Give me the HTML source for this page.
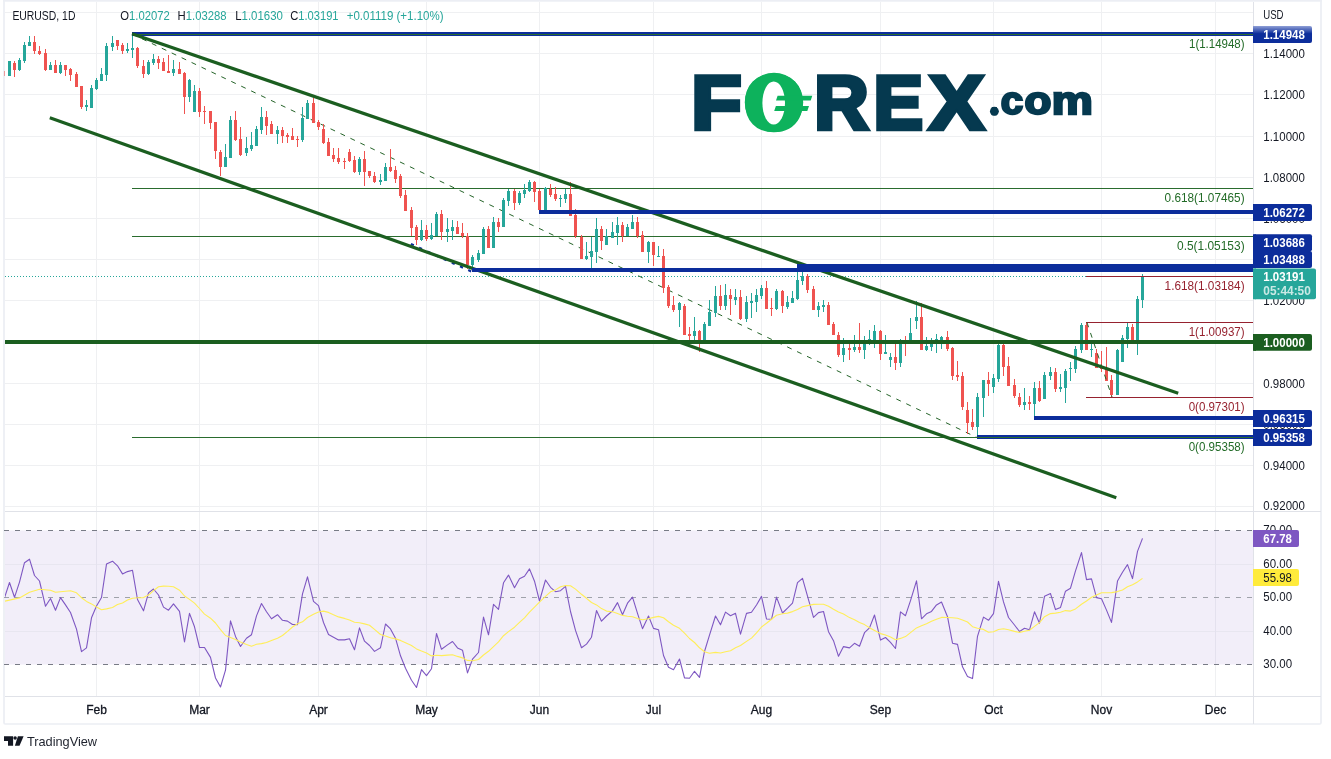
<!DOCTYPE html>
<html><head><meta charset="utf-8"><title>EURUSD 1D</title>
<style>
html,body{margin:0;padding:0;background:#fff;}
body{width:1331px;height:759px;overflow:hidden;font-family:"Liberation Sans", Arial, sans-serif;}
svg{display:block;}
text{font-family:"Liberation Sans", Arial, sans-serif;}
.ax{font-size:12px;fill:#131722;}
.lb{font-size:12px;fill:#fff;font-weight:bold;}
</style></head><body>
<svg width="1331" height="759" viewBox="0 0 1331 759">
<rect width="1331" height="759" fill="#fff"/>

<rect x="4" y="-2" width="1317" height="726" rx="1.2" fill="#fff" stroke="#eceef4" stroke-width="1.7"/>
<rect x="3" y="0" width="1319" height="1.7" fill="#eceef4"/>
<defs><clipPath id="cp"><rect x="5" y="2" width="1248" height="509"/></clipPath><clipPath id="cr"><rect x="5" y="512" width="1248" height="184"/></clipPath></defs>
<g shape-rendering="crispEdges" stroke="#eff0f2" stroke-width="1">
<line x1="96.5" y1="2" x2="96.5" y2="696"/>
<line x1="199.5" y1="2" x2="199.5" y2="696"/>
<line x1="318.5" y1="2" x2="318.5" y2="696"/>
<line x1="426.5" y1="2" x2="426.5" y2="696"/>
<line x1="539.5" y1="2" x2="539.5" y2="696"/>
<line x1="653.5" y1="2" x2="653.5" y2="696"/>
<line x1="761.5" y1="2" x2="761.5" y2="696"/>
<line x1="880.5" y1="2" x2="880.5" y2="696"/>
<line x1="993.5" y1="2" x2="993.5" y2="696"/>
<line x1="1101.5" y1="2" x2="1101.5" y2="696"/>
<line x1="1215.5" y1="2" x2="1215.5" y2="696"/>
<line x1="5" y1="12.5" x2="1253" y2="12.5"/>
<line x1="5" y1="53.5" x2="1253" y2="53.5"/>
<line x1="5" y1="94.5" x2="1253" y2="94.5"/>
<line x1="5" y1="136.5" x2="1253" y2="136.5"/>
<line x1="5" y1="177.5" x2="1253" y2="177.5"/>
<line x1="5" y1="218.5" x2="1253" y2="218.5"/>
<line x1="5" y1="259.5" x2="1253" y2="259.5"/>
<line x1="5" y1="300.5" x2="1253" y2="300.5"/>
<line x1="5" y1="342.5" x2="1253" y2="342.5"/>
<line x1="5" y1="383.5" x2="1253" y2="383.5"/>
<line x1="5" y1="424.5" x2="1253" y2="424.5"/>
<line x1="5" y1="465.5" x2="1253" y2="465.5"/>
<line x1="5" y1="506.5" x2="1253" y2="506.5"/>
</g>
<rect x="5" y="530.5" width="1248" height="134" fill="#7e57c2" fill-opacity="0.1"/>
<g shape-rendering="crispEdges" stroke="#e8e6f0" stroke-width="1">
<line x1="5" y1="564.5" x2="1253" y2="564.5"/>
<line x1="5" y1="631.5" x2="1253" y2="631.5"/>
<line x1="96.5" y1="530.5" x2="96.5" y2="664.5" stroke="#e4e1ee"/>
<line x1="199.5" y1="530.5" x2="199.5" y2="664.5" stroke="#e4e1ee"/>
<line x1="318.5" y1="530.5" x2="318.5" y2="664.5" stroke="#e4e1ee"/>
<line x1="426.5" y1="530.5" x2="426.5" y2="664.5" stroke="#e4e1ee"/>
<line x1="539.5" y1="530.5" x2="539.5" y2="664.5" stroke="#e4e1ee"/>
<line x1="653.5" y1="530.5" x2="653.5" y2="664.5" stroke="#e4e1ee"/>
<line x1="761.5" y1="530.5" x2="761.5" y2="664.5" stroke="#e4e1ee"/>
<line x1="880.5" y1="530.5" x2="880.5" y2="664.5" stroke="#e4e1ee"/>
<line x1="993.5" y1="530.5" x2="993.5" y2="664.5" stroke="#e4e1ee"/>
<line x1="1101.5" y1="530.5" x2="1101.5" y2="664.5" stroke="#e4e1ee"/>
<line x1="1215.5" y1="530.5" x2="1215.5" y2="664.5" stroke="#e4e1ee"/>
</g>
<g shape-rendering="crispEdges" stroke="#787b86" stroke-width="1" stroke-dasharray="5 6">
<line x1="4" y1="530.5" x2="1253" y2="530.5"/>
<line x1="4" y1="597.5" x2="1253" y2="597.5" stroke="#9fa2aa"/>
<line x1="4" y1="664.5" x2="1253" y2="664.5"/>
</g>
<g shape-rendering="crispEdges" stroke="#e0e2e8" stroke-width="1">
<line x1="5" y1="511.5" x2="1321" y2="511.5"/>
<line x1="5" y1="696.5" x2="1321" y2="696.5"/>
<line x1="1253.5" y1="2" x2="1253.5" y2="724"/>
</g>
<g clip-path="url(#cp)">
<line x1="5" y1="276.5" x2="1086" y2="276.5" stroke="#26a69a" stroke-width="1" stroke-dasharray="1 2" shape-rendering="crispEdges"/>
<g shape-rendering="crispEdges" stroke="#2a6c2e" stroke-width="1">
<line x1="132" y1="34.5" x2="1253" y2="34.5"/>
<line x1="132" y1="188.5" x2="1253" y2="188.5"/>
<line x1="132" y1="236.5" x2="1253" y2="236.5"/>
<line x1="132" y1="437.5" x2="1253" y2="437.5"/>
</g>
<line x1="132" y1="34" x2="977" y2="437.5" stroke="#256429" stroke-width="1" stroke-dasharray="5 6"/>
<g shape-rendering="crispEdges">
<rect x="9" y="61" width="1" height="15" fill="#26a69a"/><rect x="8" y="61" width="3" height="15" fill="#26a69a"/>
<rect x="14" y="61" width="1" height="16" fill="#ef5350"/><rect x="13" y="63" width="3" height="7" fill="#ef5350"/>
<rect x="19" y="58" width="1" height="13" fill="#26a69a"/><rect x="18" y="60" width="3" height="10" fill="#26a69a"/>
<rect x="24" y="42" width="1" height="21" fill="#26a69a"/><rect x="23" y="45" width="3" height="16" fill="#26a69a"/>
<rect x="29" y="36" width="1" height="10" fill="#26a69a"/><rect x="28" y="42" width="3" height="4" fill="#26a69a"/>
<rect x="34" y="36" width="1" height="18" fill="#ef5350"/><rect x="33" y="42" width="3" height="9" fill="#ef5350"/>
<rect x="39" y="46" width="1" height="9" fill="#ef5350"/><rect x="38" y="51" width="3" height="3" fill="#ef5350"/>
<rect x="45" y="49" width="1" height="22" fill="#ef5350"/><rect x="44" y="53" width="3" height="17" fill="#ef5350"/>
<rect x="50" y="62" width="1" height="8" fill="#26a69a"/><rect x="49" y="65" width="3" height="5" fill="#26a69a"/>
<rect x="55" y="60" width="1" height="13" fill="#ef5350"/><rect x="54" y="65" width="3" height="8" fill="#ef5350"/>
<rect x="60" y="62" width="1" height="12" fill="#26a69a"/><rect x="59" y="65" width="3" height="8" fill="#26a69a"/>
<rect x="65" y="65" width="1" height="11" fill="#ef5350"/><rect x="64" y="65" width="3" height="5" fill="#ef5350"/>
<rect x="70" y="68" width="1" height="13" fill="#ef5350"/><rect x="69" y="69" width="3" height="6" fill="#ef5350"/>
<rect x="76" y="72" width="1" height="15" fill="#ef5350"/><rect x="75" y="74" width="3" height="13" fill="#ef5350"/>
<rect x="81" y="86" width="1" height="23" fill="#ef5350"/><rect x="80" y="86" width="3" height="21" fill="#ef5350"/>
<rect x="86" y="100" width="1" height="11" fill="#26a69a"/><rect x="85" y="105" width="3" height="2" fill="#26a69a"/>
<rect x="91" y="85" width="1" height="23" fill="#26a69a"/><rect x="90" y="88" width="3" height="20" fill="#26a69a"/>
<rect x="96" y="78" width="1" height="12" fill="#26a69a"/><rect x="95" y="80" width="3" height="9" fill="#26a69a"/>
<rect x="101" y="68" width="1" height="13" fill="#26a69a"/><rect x="100" y="74" width="3" height="7" fill="#26a69a"/>
<rect x="106" y="43" width="1" height="38" fill="#26a69a"/><rect x="105" y="46" width="3" height="29" fill="#26a69a"/>
<rect x="112" y="36" width="1" height="15" fill="#26a69a"/><rect x="111" y="43" width="3" height="4" fill="#26a69a"/>
<rect x="117" y="40" width="1" height="10" fill="#ef5350"/><rect x="116" y="40" width="3" height="6" fill="#ef5350"/>
<rect x="122" y="43" width="1" height="11" fill="#ef5350"/><rect x="121" y="45" width="3" height="6" fill="#ef5350"/>
<rect x="127" y="43" width="1" height="10" fill="#26a69a"/><rect x="126" y="49" width="3" height="2" fill="#26a69a"/>
<rect x="132" y="32" width="1" height="26" fill="#26a69a"/><rect x="131" y="48" width="3" height="2" fill="#26a69a"/>
<rect x="137" y="47" width="1" height="21" fill="#ef5350"/><rect x="136" y="48" width="3" height="18" fill="#ef5350"/>
<rect x="143" y="60" width="1" height="18" fill="#ef5350"/><rect x="142" y="66" width="3" height="8" fill="#ef5350"/>
<rect x="148" y="60" width="1" height="15" fill="#26a69a"/><rect x="147" y="62" width="3" height="12" fill="#26a69a"/>
<rect x="153" y="54" width="1" height="11" fill="#26a69a"/><rect x="152" y="59" width="3" height="4" fill="#26a69a"/>
<rect x="158" y="56" width="1" height="13" fill="#ef5350"/><rect x="157" y="59" width="3" height="4" fill="#ef5350"/>
<rect x="163" y="58" width="1" height="13" fill="#ef5350"/><rect x="162" y="62" width="3" height="9" fill="#ef5350"/>
<rect x="168" y="55" width="1" height="18" fill="#ef5350"/><rect x="167" y="71" width="3" height="2" fill="#ef5350"/>
<rect x="173" y="60" width="1" height="16" fill="#26a69a"/><rect x="172" y="69" width="3" height="4" fill="#26a69a"/>
<rect x="179" y="62" width="1" height="12" fill="#ef5350"/><rect x="178" y="69" width="3" height="5" fill="#ef5350"/>
<rect x="184" y="72" width="1" height="42" fill="#ef5350"/><rect x="183" y="73" width="3" height="24" fill="#ef5350"/>
<rect x="189" y="79" width="1" height="23" fill="#26a69a"/><rect x="188" y="80" width="3" height="17" fill="#26a69a"/>
<rect x="194" y="85" width="1" height="27" fill="#26a69a"/><rect x="193" y="91" width="3" height="21" fill="#26a69a"/>
<rect x="199" y="88" width="1" height="29" fill="#ef5350"/><rect x="198" y="91" width="3" height="21" fill="#ef5350"/>
<rect x="204" y="106" width="1" height="18" fill="#ef5350"/><rect x="203" y="111" width="3" height="1" fill="#ef5350"/>
<rect x="210" y="111" width="1" height="18" fill="#ef5350"/><rect x="209" y="111" width="3" height="12" fill="#ef5350"/>
<rect x="215" y="122" width="1" height="37" fill="#ef5350"/><rect x="214" y="122" width="3" height="29" fill="#ef5350"/>
<rect x="220" y="150" width="1" height="26" fill="#ef5350"/><rect x="219" y="152" width="3" height="15" fill="#ef5350"/>
<rect x="225" y="144" width="1" height="23" fill="#26a69a"/><rect x="224" y="157" width="3" height="10" fill="#26a69a"/>
<rect x="230" y="116" width="1" height="42" fill="#26a69a"/><rect x="229" y="120" width="3" height="38" fill="#26a69a"/>
<rect x="235" y="111" width="1" height="30" fill="#ef5350"/><rect x="234" y="120" width="3" height="20" fill="#ef5350"/>
<rect x="240" y="127" width="1" height="29" fill="#ef5350"/><rect x="239" y="139" width="3" height="16" fill="#ef5350"/>
<rect x="246" y="137" width="1" height="19" fill="#26a69a"/><rect x="245" y="148" width="3" height="5" fill="#26a69a"/>
<rect x="251" y="132" width="1" height="19" fill="#26a69a"/><rect x="250" y="145" width="3" height="4" fill="#26a69a"/>
<rect x="256" y="126" width="1" height="20" fill="#26a69a"/><rect x="255" y="129" width="3" height="17" fill="#26a69a"/>
<rect x="261" y="107" width="1" height="27" fill="#26a69a"/><rect x="260" y="117" width="3" height="13" fill="#26a69a"/>
<rect x="266" y="111" width="1" height="24" fill="#ef5350"/><rect x="265" y="117" width="3" height="9" fill="#ef5350"/>
<rect x="271" y="121" width="1" height="13" fill="#ef5350"/><rect x="270" y="124" width="3" height="10" fill="#ef5350"/>
<rect x="277" y="126" width="1" height="18" fill="#26a69a"/><rect x="276" y="130" width="3" height="4" fill="#26a69a"/>
<rect x="282" y="127" width="1" height="16" fill="#ef5350"/><rect x="281" y="130" width="3" height="6" fill="#ef5350"/>
<rect x="287" y="133" width="1" height="10" fill="#ef5350"/><rect x="286" y="135" width="3" height="2" fill="#ef5350"/>
<rect x="292" y="128" width="1" height="12" fill="#ef5350"/><rect x="291" y="136" width="3" height="4" fill="#ef5350"/>
<rect x="297" y="136" width="1" height="11" fill="#ef5350"/><rect x="296" y="139" width="3" height="1" fill="#ef5350"/>
<rect x="302" y="107" width="1" height="35" fill="#26a69a"/><rect x="301" y="118" width="3" height="22" fill="#26a69a"/>
<rect x="307" y="100" width="1" height="19" fill="#26a69a"/><rect x="306" y="103" width="3" height="16" fill="#26a69a"/>
<rect x="313" y="98" width="1" height="25" fill="#ef5350"/><rect x="312" y="103" width="3" height="20" fill="#ef5350"/>
<rect x="318" y="120" width="1" height="10" fill="#ef5350"/><rect x="317" y="122" width="3" height="5" fill="#ef5350"/>
<rect x="323" y="124" width="1" height="20" fill="#ef5350"/><rect x="322" y="129" width="3" height="14" fill="#ef5350"/>
<rect x="328" y="138" width="1" height="18" fill="#ef5350"/><rect x="327" y="142" width="3" height="14" fill="#ef5350"/>
<rect x="333" y="148" width="1" height="14" fill="#ef5350"/><rect x="332" y="155" width="3" height="4" fill="#ef5350"/>
<rect x="338" y="148" width="1" height="16" fill="#ef5350"/><rect x="337" y="158" width="3" height="4" fill="#ef5350"/>
<rect x="344" y="158" width="1" height="11" fill="#ef5350"/><rect x="343" y="161" width="3" height="1" fill="#ef5350"/>
<rect x="349" y="149" width="1" height="13" fill="#ef5350"/><rect x="348" y="152" width="3" height="9" fill="#ef5350"/>
<rect x="354" y="156" width="1" height="17" fill="#ef5350"/><rect x="353" y="160" width="3" height="12" fill="#ef5350"/>
<rect x="359" y="157" width="1" height="18" fill="#26a69a"/><rect x="358" y="159" width="3" height="13" fill="#26a69a"/>
<rect x="364" y="151" width="1" height="35" fill="#ef5350"/><rect x="363" y="159" width="3" height="13" fill="#ef5350"/>
<rect x="369" y="171" width="1" height="7" fill="#ef5350"/><rect x="368" y="171" width="3" height="5" fill="#ef5350"/>
<rect x="374" y="172" width="1" height="11" fill="#ef5350"/><rect x="373" y="176" width="3" height="6" fill="#ef5350"/>
<rect x="380" y="174" width="1" height="11" fill="#26a69a"/><rect x="379" y="180" width="3" height="2" fill="#26a69a"/>
<rect x="385" y="163" width="1" height="18" fill="#26a69a"/><rect x="384" y="167" width="3" height="14" fill="#26a69a"/>
<rect x="390" y="149" width="1" height="23" fill="#ef5350"/><rect x="389" y="167" width="3" height="4" fill="#ef5350"/>
<rect x="395" y="166" width="1" height="17" fill="#ef5350"/><rect x="394" y="170" width="3" height="9" fill="#ef5350"/>
<rect x="400" y="174" width="1" height="24" fill="#ef5350"/><rect x="399" y="176" width="3" height="20" fill="#ef5350"/>
<rect x="405" y="190" width="1" height="21" fill="#ef5350"/><rect x="404" y="195" width="3" height="16" fill="#ef5350"/>
<rect x="411" y="207" width="1" height="29" fill="#ef5350"/><rect x="410" y="210" width="3" height="18" fill="#ef5350"/>
<rect x="416" y="225" width="1" height="20" fill="#ef5350"/><rect x="415" y="227" width="3" height="13" fill="#ef5350"/>
<rect x="421" y="220" width="1" height="21" fill="#26a69a"/><rect x="420" y="230" width="3" height="10" fill="#26a69a"/>
<rect x="426" y="225" width="1" height="16" fill="#ef5350"/><rect x="425" y="230" width="3" height="9" fill="#ef5350"/>
<rect x="431" y="223" width="1" height="17" fill="#26a69a"/><rect x="430" y="235" width="3" height="4" fill="#26a69a"/>
<rect x="436" y="212" width="1" height="24" fill="#26a69a"/><rect x="435" y="214" width="3" height="22" fill="#26a69a"/>
<rect x="441" y="210" width="1" height="30" fill="#ef5350"/><rect x="440" y="214" width="3" height="18" fill="#ef5350"/>
<rect x="447" y="218" width="1" height="24" fill="#26a69a"/><rect x="446" y="229" width="3" height="3" fill="#26a69a"/>
<rect x="452" y="220" width="1" height="20" fill="#26a69a"/><rect x="451" y="227" width="3" height="4" fill="#26a69a"/>
<rect x="457" y="221" width="1" height="13" fill="#ef5350"/><rect x="456" y="227" width="3" height="7" fill="#ef5350"/>
<rect x="462" y="223" width="1" height="15" fill="#ef5350"/><rect x="461" y="233" width="3" height="3" fill="#ef5350"/>
<rect x="467" y="233" width="1" height="36" fill="#ef5350"/><rect x="466" y="236" width="3" height="29" fill="#ef5350"/>
<rect x="472" y="255" width="1" height="12" fill="#26a69a"/><rect x="471" y="257" width="3" height="8" fill="#26a69a"/>
<rect x="478" y="250" width="1" height="12" fill="#26a69a"/><rect x="477" y="253" width="3" height="7" fill="#26a69a"/>
<rect x="483" y="227" width="1" height="27" fill="#26a69a"/><rect x="482" y="229" width="3" height="25" fill="#26a69a"/>
<rect x="488" y="226" width="1" height="22" fill="#ef5350"/><rect x="487" y="229" width="3" height="19" fill="#ef5350"/>
<rect x="493" y="217" width="1" height="31" fill="#26a69a"/><rect x="492" y="222" width="3" height="26" fill="#26a69a"/>
<rect x="498" y="218" width="1" height="14" fill="#ef5350"/><rect x="497" y="222" width="3" height="5" fill="#ef5350"/>
<rect x="503" y="198" width="1" height="29" fill="#26a69a"/><rect x="502" y="200" width="3" height="27" fill="#26a69a"/>
<rect x="508" y="189" width="1" height="17" fill="#26a69a"/><rect x="507" y="191" width="3" height="10" fill="#26a69a"/>
<rect x="514" y="189" width="1" height="21" fill="#ef5350"/><rect x="513" y="191" width="3" height="12" fill="#ef5350"/>
<rect x="519" y="191" width="1" height="14" fill="#26a69a"/><rect x="518" y="193" width="3" height="10" fill="#26a69a"/>
<rect x="524" y="184" width="1" height="14" fill="#26a69a"/><rect x="523" y="190" width="3" height="4" fill="#26a69a"/>
<rect x="529" y="180" width="1" height="12" fill="#26a69a"/><rect x="528" y="182" width="3" height="9" fill="#26a69a"/>
<rect x="534" y="181" width="1" height="21" fill="#ef5350"/><rect x="533" y="182" width="3" height="10" fill="#ef5350"/>
<rect x="539" y="189" width="1" height="21" fill="#ef5350"/><rect x="538" y="191" width="3" height="19" fill="#ef5350"/>
<rect x="545" y="187" width="1" height="23" fill="#26a69a"/><rect x="544" y="188" width="3" height="22" fill="#26a69a"/>
<rect x="550" y="184" width="1" height="13" fill="#ef5350"/><rect x="549" y="189" width="3" height="6" fill="#ef5350"/>
<rect x="555" y="187" width="1" height="14" fill="#ef5350"/><rect x="554" y="194" width="3" height="5" fill="#ef5350"/>
<rect x="560" y="195" width="1" height="12" fill="#26a69a"/><rect x="559" y="198" width="3" height="1" fill="#26a69a"/>
<rect x="565" y="189" width="1" height="14" fill="#26a69a"/><rect x="564" y="194" width="3" height="5" fill="#26a69a"/>
<rect x="570" y="182" width="1" height="34" fill="#ef5350"/><rect x="569" y="194" width="3" height="22" fill="#ef5350"/>
<rect x="575" y="209" width="1" height="29" fill="#ef5350"/><rect x="574" y="215" width="3" height="21" fill="#ef5350"/>
<rect x="581" y="235" width="1" height="24" fill="#ef5350"/><rect x="580" y="237" width="3" height="22" fill="#ef5350"/>
<rect x="586" y="242" width="1" height="18" fill="#26a69a"/><rect x="585" y="256" width="3" height="3" fill="#26a69a"/>
<rect x="591" y="237" width="1" height="31" fill="#26a69a"/><rect x="590" y="251" width="3" height="6" fill="#26a69a"/>
<rect x="596" y="218" width="1" height="45" fill="#26a69a"/><rect x="595" y="229" width="3" height="23" fill="#26a69a"/>
<rect x="601" y="226" width="1" height="24" fill="#ef5350"/><rect x="600" y="229" width="3" height="12" fill="#ef5350"/>
<rect x="606" y="229" width="1" height="16" fill="#26a69a"/><rect x="605" y="236" width="3" height="9" fill="#26a69a"/>
<rect x="612" y="222" width="1" height="16" fill="#26a69a"/><rect x="611" y="232" width="3" height="6" fill="#26a69a"/>
<rect x="617" y="217" width="1" height="28" fill="#26a69a"/><rect x="616" y="225" width="3" height="8" fill="#26a69a"/>
<rect x="622" y="222" width="1" height="20" fill="#ef5350"/><rect x="621" y="225" width="3" height="11" fill="#ef5350"/>
<rect x="627" y="224" width="1" height="12" fill="#26a69a"/><rect x="626" y="227" width="3" height="9" fill="#26a69a"/>
<rect x="632" y="215" width="1" height="14" fill="#26a69a"/><rect x="631" y="222" width="3" height="7" fill="#26a69a"/>
<rect x="637" y="217" width="1" height="21" fill="#ef5350"/><rect x="636" y="222" width="3" height="14" fill="#ef5350"/>
<rect x="642" y="231" width="1" height="21" fill="#ef5350"/><rect x="641" y="235" width="3" height="17" fill="#ef5350"/>
<rect x="648" y="241" width="1" height="22" fill="#26a69a"/><rect x="647" y="242" width="3" height="10" fill="#26a69a"/>
<rect x="653" y="242" width="1" height="24" fill="#ef5350"/><rect x="652" y="242" width="3" height="13" fill="#ef5350"/>
<rect x="658" y="246" width="1" height="11" fill="#26a69a"/><rect x="657" y="256" width="3" height="1" fill="#26a69a"/>
<rect x="663" y="249" width="1" height="44" fill="#ef5350"/><rect x="662" y="256" width="3" height="32" fill="#ef5350"/>
<rect x="668" y="285" width="1" height="23" fill="#ef5350"/><rect x="667" y="287" width="3" height="19" fill="#ef5350"/>
<rect x="673" y="296" width="1" height="16" fill="#ef5350"/><rect x="672" y="305" width="3" height="5" fill="#ef5350"/>
<rect x="679" y="302" width="1" height="25" fill="#26a69a"/><rect x="678" y="303" width="3" height="7" fill="#26a69a"/>
<rect x="684" y="304" width="1" height="31" fill="#ef5350"/><rect x="683" y="306" width="3" height="29" fill="#ef5350"/>
<rect x="689" y="327" width="1" height="15" fill="#ef5350"/><rect x="688" y="334" width="3" height="2" fill="#ef5350"/>
<rect x="694" y="317" width="1" height="25" fill="#26a69a"/><rect x="693" y="331" width="3" height="5" fill="#26a69a"/>
<rect x="699" y="330" width="1" height="22" fill="#ef5350"/><rect x="698" y="331" width="3" height="11" fill="#ef5350"/>
<rect x="704" y="322" width="1" height="20" fill="#26a69a"/><rect x="703" y="324" width="3" height="18" fill="#26a69a"/>
<rect x="709" y="300" width="1" height="26" fill="#26a69a"/><rect x="708" y="312" width="3" height="14" fill="#26a69a"/>
<rect x="715" y="286" width="1" height="31" fill="#26a69a"/><rect x="714" y="296" width="3" height="17" fill="#26a69a"/>
<rect x="720" y="285" width="1" height="25" fill="#ef5350"/><rect x="719" y="296" width="3" height="10" fill="#ef5350"/>
<rect x="725" y="284" width="1" height="26" fill="#26a69a"/><rect x="724" y="295" width="3" height="11" fill="#26a69a"/>
<rect x="730" y="289" width="1" height="26" fill="#ef5350"/><rect x="729" y="295" width="3" height="4" fill="#ef5350"/>
<rect x="735" y="289" width="1" height="16" fill="#26a69a"/><rect x="734" y="297" width="3" height="3" fill="#26a69a"/>
<rect x="740" y="290" width="1" height="30" fill="#ef5350"/><rect x="739" y="297" width="3" height="22" fill="#ef5350"/>
<rect x="746" y="296" width="1" height="26" fill="#26a69a"/><rect x="745" y="302" width="3" height="17" fill="#26a69a"/>
<rect x="751" y="293" width="1" height="25" fill="#26a69a"/><rect x="750" y="301" width="3" height="2" fill="#26a69a"/>
<rect x="756" y="289" width="1" height="23" fill="#26a69a"/><rect x="755" y="295" width="3" height="7" fill="#26a69a"/>
<rect x="761" y="285" width="1" height="14" fill="#26a69a"/><rect x="760" y="288" width="3" height="8" fill="#26a69a"/>
<rect x="766" y="281" width="1" height="28" fill="#ef5350"/><rect x="765" y="288" width="3" height="21" fill="#ef5350"/>
<rect x="771" y="298" width="1" height="18" fill="#ef5350"/><rect x="770" y="308" width="3" height="1" fill="#ef5350"/>
<rect x="776" y="289" width="1" height="21" fill="#26a69a"/><rect x="775" y="291" width="3" height="18" fill="#26a69a"/>
<rect x="782" y="290" width="1" height="23" fill="#ef5350"/><rect x="781" y="291" width="3" height="15" fill="#ef5350"/>
<rect x="787" y="296" width="1" height="13" fill="#26a69a"/><rect x="786" y="302" width="3" height="5" fill="#26a69a"/>
<rect x="792" y="291" width="1" height="12" fill="#26a69a"/><rect x="791" y="298" width="3" height="5" fill="#26a69a"/>
<rect x="797" y="262" width="1" height="38" fill="#26a69a"/><rect x="796" y="280" width="3" height="19" fill="#26a69a"/>
<rect x="802" y="265" width="1" height="20" fill="#26a69a"/><rect x="801" y="276" width="3" height="5" fill="#26a69a"/>
<rect x="807" y="274" width="1" height="19" fill="#ef5350"/><rect x="806" y="276" width="3" height="14" fill="#ef5350"/>
<rect x="813" y="286" width="1" height="24" fill="#ef5350"/><rect x="812" y="289" width="3" height="21" fill="#ef5350"/>
<rect x="818" y="302" width="1" height="15" fill="#26a69a"/><rect x="817" y="306" width="3" height="4" fill="#26a69a"/>
<rect x="823" y="300" width="1" height="12" fill="#26a69a"/><rect x="822" y="305" width="3" height="2" fill="#26a69a"/>
<rect x="828" y="302" width="1" height="23" fill="#ef5350"/><rect x="827" y="305" width="3" height="20" fill="#ef5350"/>
<rect x="833" y="322" width="1" height="13" fill="#ef5350"/><rect x="832" y="324" width="3" height="11" fill="#ef5350"/>
<rect x="838" y="332" width="1" height="25" fill="#ef5350"/><rect x="837" y="335" width="3" height="20" fill="#ef5350"/>
<rect x="843" y="338" width="1" height="24" fill="#26a69a"/><rect x="842" y="348" width="3" height="7" fill="#26a69a"/>
<rect x="849" y="342" width="1" height="18" fill="#ef5350"/><rect x="848" y="348" width="3" height="2" fill="#ef5350"/>
<rect x="854" y="335" width="1" height="17" fill="#26a69a"/><rect x="853" y="347" width="3" height="3" fill="#26a69a"/>
<rect x="859" y="323" width="1" height="30" fill="#ef5350"/><rect x="858" y="347" width="3" height="3" fill="#ef5350"/>
<rect x="864" y="336" width="1" height="23" fill="#26a69a"/><rect x="863" y="342" width="3" height="8" fill="#26a69a"/>
<rect x="869" y="330" width="1" height="15" fill="#26a69a"/><rect x="868" y="339" width="3" height="2" fill="#26a69a"/>
<rect x="874" y="325" width="1" height="23" fill="#26a69a"/><rect x="873" y="331" width="3" height="10" fill="#26a69a"/>
<rect x="880" y="330" width="1" height="30" fill="#ef5350"/><rect x="879" y="331" width="3" height="23" fill="#ef5350"/>
<rect x="885" y="335" width="1" height="19" fill="#26a69a"/><rect x="884" y="352" width="3" height="2" fill="#26a69a"/>
<rect x="890" y="353" width="1" height="14" fill="#26a69a"/><rect x="889" y="357" width="3" height="3" fill="#26a69a"/>
<rect x="895" y="343" width="1" height="27" fill="#ef5350"/><rect x="894" y="357" width="3" height="6" fill="#ef5350"/>
<rect x="900" y="339" width="1" height="28" fill="#26a69a"/><rect x="899" y="340" width="3" height="23" fill="#26a69a"/>
<rect x="905" y="336" width="1" height="20" fill="#ef5350"/><rect x="904" y="340" width="3" height="4" fill="#ef5350"/>
<rect x="910" y="318" width="1" height="26" fill="#26a69a"/><rect x="909" y="333" width="3" height="10" fill="#26a69a"/>
<rect x="916" y="301" width="1" height="28" fill="#26a69a"/><rect x="915" y="317" width="3" height="4" fill="#26a69a"/>
<rect x="921" y="303" width="1" height="47" fill="#ef5350"/><rect x="920" y="317" width="3" height="33" fill="#ef5350"/>
<rect x="926" y="337" width="1" height="14" fill="#26a69a"/><rect x="925" y="346" width="3" height="4" fill="#26a69a"/>
<rect x="931" y="338" width="1" height="13" fill="#26a69a"/><rect x="930" y="344" width="3" height="3" fill="#26a69a"/>
<rect x="936" y="334" width="1" height="19" fill="#26a69a"/><rect x="935" y="339" width="3" height="5" fill="#26a69a"/>
<rect x="941" y="336" width="1" height="13" fill="#26a69a"/><rect x="940" y="337" width="3" height="4" fill="#26a69a"/>
<rect x="947" y="331" width="1" height="20" fill="#ef5350"/><rect x="946" y="337" width="3" height="12" fill="#ef5350"/>
<rect x="952" y="347" width="1" height="33" fill="#ef5350"/><rect x="951" y="348" width="3" height="28" fill="#ef5350"/>
<rect x="957" y="361" width="1" height="20" fill="#ef5350"/><rect x="956" y="375" width="3" height="2" fill="#ef5350"/>
<rect x="962" y="372" width="1" height="38" fill="#ef5350"/><rect x="961" y="376" width="3" height="31" fill="#ef5350"/>
<rect x="967" y="402" width="1" height="32" fill="#ef5350"/><rect x="966" y="410" width="3" height="13" fill="#ef5350"/>
<rect x="972" y="409" width="1" height="21" fill="#ef5350"/><rect x="971" y="422" width="3" height="5" fill="#ef5350"/>
<rect x="977" y="393" width="1" height="44" fill="#26a69a"/><rect x="976" y="397" width="3" height="30" fill="#26a69a"/>
<rect x="983" y="380" width="1" height="37" fill="#26a69a"/><rect x="982" y="380" width="3" height="18" fill="#26a69a"/>
<rect x="988" y="372" width="1" height="24" fill="#ef5350"/><rect x="987" y="380" width="3" height="4" fill="#ef5350"/>
<rect x="993" y="374" width="1" height="19" fill="#26a69a"/><rect x="992" y="378" width="3" height="9" fill="#26a69a"/>
<rect x="998" y="342" width="1" height="40" fill="#26a69a"/><rect x="997" y="345" width="3" height="34" fill="#26a69a"/>
<rect x="1003" y="342" width="1" height="34" fill="#ef5350"/><rect x="1002" y="345" width="3" height="22" fill="#ef5350"/>
<rect x="1008" y="357" width="1" height="29" fill="#ef5350"/><rect x="1007" y="366" width="3" height="20" fill="#ef5350"/>
<rect x="1014" y="379" width="1" height="19" fill="#ef5350"/><rect x="1013" y="385" width="3" height="11" fill="#ef5350"/>
<rect x="1019" y="393" width="1" height="14" fill="#ef5350"/><rect x="1018" y="397" width="3" height="8" fill="#ef5350"/>
<rect x="1024" y="388" width="1" height="22" fill="#26a69a"/><rect x="1023" y="402" width="3" height="3" fill="#26a69a"/>
<rect x="1029" y="396" width="1" height="14" fill="#ef5350"/><rect x="1028" y="402" width="3" height="2" fill="#ef5350"/>
<rect x="1034" y="382" width="1" height="36" fill="#26a69a"/><rect x="1033" y="388" width="3" height="16" fill="#26a69a"/>
<rect x="1039" y="381" width="1" height="21" fill="#ef5350"/><rect x="1038" y="388" width="3" height="13" fill="#ef5350"/>
<rect x="1044" y="372" width="1" height="27" fill="#26a69a"/><rect x="1043" y="375" width="3" height="24" fill="#26a69a"/>
<rect x="1050" y="367" width="1" height="13" fill="#26a69a"/><rect x="1049" y="372" width="3" height="4" fill="#26a69a"/>
<rect x="1055" y="368" width="1" height="24" fill="#ef5350"/><rect x="1054" y="372" width="3" height="17" fill="#ef5350"/>
<rect x="1060" y="374" width="1" height="18" fill="#26a69a"/><rect x="1059" y="387" width="3" height="2" fill="#26a69a"/>
<rect x="1065" y="369" width="1" height="34" fill="#26a69a"/><rect x="1064" y="371" width="3" height="17" fill="#26a69a"/>
<rect x="1070" y="362" width="1" height="19" fill="#26a69a"/><rect x="1069" y="368" width="3" height="1" fill="#26a69a"/>
<rect x="1075" y="346" width="1" height="27" fill="#26a69a"/><rect x="1074" y="349" width="3" height="20" fill="#26a69a"/>
<rect x="1081" y="323" width="1" height="30" fill="#26a69a"/><rect x="1080" y="325" width="3" height="25" fill="#26a69a"/>
<rect x="1086" y="323" width="1" height="27" fill="#ef5350"/><rect x="1085" y="325" width="3" height="25" fill="#ef5350"/>
<rect x="1091" y="341" width="1" height="16" fill="#26a69a"/><rect x="1090" y="349" width="3" height="1" fill="#26a69a"/>
<rect x="1096" y="349" width="1" height="19" fill="#ef5350"/><rect x="1095" y="353" width="3" height="15" fill="#ef5350"/>
<rect x="1101" y="351" width="1" height="21" fill="#ef5350"/><rect x="1100" y="368" width="3" height="1" fill="#ef5350"/>
<rect x="1106" y="347" width="1" height="34" fill="#ef5350"/><rect x="1105" y="369" width="3" height="12" fill="#ef5350"/>
<rect x="1111" y="375" width="1" height="22" fill="#ef5350"/><rect x="1110" y="380" width="3" height="15" fill="#ef5350"/>
<rect x="1117" y="349" width="1" height="46" fill="#26a69a"/><rect x="1116" y="350" width="3" height="45" fill="#26a69a"/>
<rect x="1122" y="335" width="1" height="27" fill="#26a69a"/><rect x="1121" y="338" width="3" height="24" fill="#26a69a"/>
<rect x="1127" y="323" width="1" height="25" fill="#26a69a"/><rect x="1126" y="327" width="3" height="12" fill="#26a69a"/>
<rect x="1132" y="324" width="1" height="18" fill="#ef5350"/><rect x="1131" y="327" width="3" height="14" fill="#ef5350"/>
<rect x="1137" y="296" width="1" height="59" fill="#26a69a"/><rect x="1136" y="299" width="3" height="42" fill="#26a69a"/>
<rect x="1142" y="274" width="1" height="34" fill="#26a69a"/><rect x="1141" y="277" width="3" height="23" fill="#26a69a"/>
</g>
<g shape-rendering="crispEdges" stroke="#96222f" stroke-width="1">
<line x1="1086" y1="276.5" x2="1253" y2="276.5"/>
<line x1="1086" y1="322.5" x2="1253" y2="322.5"/>
<line x1="1086" y1="397.5" x2="1253" y2="397.5"/>
</g>
<line x1="1087" y1="322.5" x2="1112" y2="397" stroke="#256429" stroke-width="1" stroke-dasharray="5 6"/>
<line x1="410.9" y1="244" x2="472" y2="271.8" stroke="#0c2d9b" stroke-width="2.2" stroke-dasharray="3.2 5.8"/>
<rect x="132" y="32" width="1121" height="4" fill="#0c2d9b" shape-rendering="crispEdges"/>
<line x1="132" y1="34.5" x2="1253" y2="34.5" stroke="#2a6c2e" stroke-width="1" shape-rendering="crispEdges"/>
<rect x="5" y="340" width="1248" height="4" fill="#1b5e20" shape-rendering="crispEdges"/>
<line x1="132" y1="33.8" x2="1178.2" y2="393.3" stroke="#1b5e20" stroke-width="3.3"/>
<line x1="49.8" y1="117.8" x2="1116.3" y2="497.7" stroke="#1b5e20" stroke-width="3.2"/>
<rect x="797" y="264" width="456" height="8" fill="#0c2d9b" shape-rendering="crispEdges"/>
<rect x="472" y="268" width="781" height="4" fill="#0c2d9b" shape-rendering="crispEdges"/>
<g shape-rendering="crispEdges" fill="#0c2d9b">
<rect x="539" y="210" width="714" height="4"/>
<rect x="1034" y="416" width="219" height="4"/>
<rect x="977" y="435" width="276" height="4"/>
</g>
<g shape-rendering="crispEdges" stroke="#2a6c2e" stroke-width="1"><line x1="977" y1="437.5" x2="1253" y2="437.5"/></g>
</g>
<rect x="4.1" y="71" width="0.9" height="5" fill="#ef5350" fill-opacity="0.6"/>
<text x="1189.0" y="48" font-size="12.6" fill="#226b27" textLength="55.6" lengthAdjust="spacingAndGlyphs">1(1.14948)</text>
<text x="1164.6" y="202" font-size="12.6" fill="#226b27" textLength="80" lengthAdjust="spacingAndGlyphs">0.618(1.07465)</text>
<text x="1177.0" y="250" font-size="12.6" fill="#226b27" textLength="67.6" lengthAdjust="spacingAndGlyphs">0.5(1.05153)</text>
<text x="1188.7" y="451" font-size="12.6" fill="#226b27" textLength="55.9" lengthAdjust="spacingAndGlyphs">0(0.95358)</text>
<text x="1164.6" y="290" font-size="12.6" fill="#96222f" textLength="80" lengthAdjust="spacingAndGlyphs">1.618(1.03184)</text>
<text x="1188.7" y="336" font-size="12.6" fill="#96222f" textLength="55.9" lengthAdjust="spacingAndGlyphs">1(1.00937)</text>
<text x="1188.7" y="411" font-size="12.6" fill="#96222f" textLength="55.9" lengthAdjust="spacingAndGlyphs">0(0.97301)</text>
<text x="12.4" y="20" font-size="12.6" fill="#131722" textLength="63" lengthAdjust="spacingAndGlyphs">EURUSD, 1D</text>
<text x="120.3" y="20" font-size="12" fill="#131722" textLength="49.5" lengthAdjust="spacingAndGlyphs">O<tspan fill="#26a69a">1.02072</tspan></text>
<text x="177.6" y="20" font-size="12" fill="#131722" textLength="49.0" lengthAdjust="spacingAndGlyphs">H<tspan fill="#26a69a">1.03288</tspan></text>
<text x="235.2" y="20" font-size="12" fill="#131722" textLength="47.7" lengthAdjust="spacingAndGlyphs">L<tspan fill="#26a69a">1.01630</tspan></text>
<text x="290.2" y="20" font-size="12" fill="#131722" textLength="48.4" lengthAdjust="spacingAndGlyphs">C<tspan fill="#26a69a">1.03191</tspan></text>
<text x="346.7" y="20" font-size="12" fill="#26a69a" textLength="96.8" lengthAdjust="spacingAndGlyphs">+0.01119 (+1.10%)</text>
<text x="1263.2" y="19" class="ax" textLength="20.3" lengthAdjust="spacingAndGlyphs">USD</text>
<text x="1263.3" y="58.0" class="ax" textLength="41.5" lengthAdjust="spacingAndGlyphs">1.14000</text>
<text x="1263.3" y="99.2" class="ax" textLength="41.5" lengthAdjust="spacingAndGlyphs">1.12000</text>
<text x="1263.3" y="140.5" class="ax" textLength="41.5" lengthAdjust="spacingAndGlyphs">1.10000</text>
<text x="1263.3" y="181.7" class="ax" textLength="41.5" lengthAdjust="spacingAndGlyphs">1.08000</text>
<text x="1263.3" y="222.9" class="ax" textLength="41.5" lengthAdjust="spacingAndGlyphs">1.06000</text>
<text x="1263.3" y="264.1" class="ax" textLength="41.5" lengthAdjust="spacingAndGlyphs">1.04000</text>
<text x="1263.3" y="305.4" class="ax" textLength="41.5" lengthAdjust="spacingAndGlyphs">1.02000</text>
<text x="1263.3" y="346.6" class="ax" textLength="41.5" lengthAdjust="spacingAndGlyphs">1.00000</text>
<text x="1263.3" y="387.8" class="ax" textLength="41.5" lengthAdjust="spacingAndGlyphs">0.98000</text>
<text x="1263.3" y="429.1" class="ax" textLength="41.5" lengthAdjust="spacingAndGlyphs">0.96000</text>
<text x="1263.3" y="470.3" class="ax" textLength="41.5" lengthAdjust="spacingAndGlyphs">0.94000</text>
<text x="1263.3" y="510.3" class="ax" textLength="41.5" lengthAdjust="spacingAndGlyphs">0.92000</text>
<text x="1263.3" y="534.1" class="ax" textLength="28.8" lengthAdjust="spacingAndGlyphs">70.00</text>
<text x="1263.3" y="568.1" class="ax" textLength="28.8" lengthAdjust="spacingAndGlyphs">60.00</text>
<text x="1263.3" y="601.1" class="ax" textLength="28.8" lengthAdjust="spacingAndGlyphs">50.00</text>
<text x="1263.3" y="635.1" class="ax" textLength="28.8" lengthAdjust="spacingAndGlyphs">40.00</text>
<text x="1263.3" y="668.1" class="ax" textLength="28.8" lengthAdjust="spacingAndGlyphs">30.00</text>
<defs><linearGradient id="lg" x1="0" y1="0" x2="0" y2="1"><stop offset="0" stop-color="#8f9fd6"/><stop offset="0.45" stop-color="#0c2d9b"/></linearGradient></defs>
<rect x="1253" y="26" width="59" height="17" rx="2" fill="url(#lg)"/>
<rect x="1253" y="26" width="3" height="17" fill="url(#lg)"/>
<text x="1263.3" y="38.8" font-size="12" font-weight="bold" fill="#fff" textLength="41.5" lengthAdjust="spacingAndGlyphs">1.14948</text>
<rect x="1253" y="204" width="59" height="17" rx="2" fill="#0c2d9b"/>
<rect x="1253" y="204" width="3" height="17" fill="#0c2d9b"/>
<text x="1263.3" y="216.8" font-size="12" font-weight="bold" fill="#fff" textLength="41.5" lengthAdjust="spacingAndGlyphs">1.06272</text>
<rect x="1253" y="234.3" width="59" height="17" rx="2" fill="#0c2d9b"/>
<rect x="1253" y="234.3" width="3" height="17" fill="#0c2d9b"/>
<text x="1263.3" y="247.1" font-size="12" font-weight="bold" fill="#fff" textLength="41.5" lengthAdjust="spacingAndGlyphs">1.03686</text>
<rect x="1253" y="251" width="59" height="17" rx="2" fill="#0c2d9b"/>
<rect x="1253" y="251" width="3" height="17" fill="#0c2d9b"/>
<text x="1263.3" y="263.8" font-size="12" font-weight="bold" fill="#fff" textLength="41.5" lengthAdjust="spacingAndGlyphs">1.03488</text>
<rect x="1253" y="334" width="59" height="16.8" rx="2" fill="#1b5e20"/>
<rect x="1253" y="334" width="3" height="16.8" fill="#1b5e20"/>
<text x="1263.3" y="346.7" font-size="12" font-weight="bold" fill="#fff" textLength="41.5" lengthAdjust="spacingAndGlyphs">1.00000</text>
<rect x="1253" y="410" width="59" height="17" rx="2" fill="#0c2d9b"/>
<rect x="1253" y="410" width="3" height="17" fill="#0c2d9b"/>
<text x="1263.3" y="422.8" font-size="12" font-weight="bold" fill="#fff" textLength="41.5" lengthAdjust="spacingAndGlyphs">0.96315</text>
<rect x="1253" y="429" width="59" height="17" rx="2" fill="#0c2d9b"/>
<rect x="1253" y="429" width="3" height="17" fill="#0c2d9b"/>
<text x="1263.3" y="441.8" font-size="12" font-weight="bold" fill="#fff" textLength="41.5" lengthAdjust="spacingAndGlyphs">0.95358</text>
<rect x="1253" y="268.4" width="63" height="30.8" rx="2" fill="#26a69a"/><rect x="1253" y="268.4" width="3" height="30.8" fill="#26a69a"/>
<text x="1263.3" y="281" font-size="12" font-weight="bold" fill="#fff" textLength="41.5" lengthAdjust="spacingAndGlyphs">1.03191</text>
<text x="1263.3" y="295" font-size="12" font-weight="bold" fill="#c9e9e5" textLength="47.5" lengthAdjust="spacingAndGlyphs">05:44:50</text>
<rect x="1253" y="530" width="46" height="17" rx="2" fill="#7e57c2"/><rect x="1253" y="530" width="3" height="17" fill="#7e57c2"/>
<text x="1263.3" y="543" font-size="12" font-weight="bold" fill="#fff" textLength="28.5" lengthAdjust="spacingAndGlyphs">67.78</text>
<rect x="1253" y="569" width="46" height="17" rx="2" fill="#ffeb3b"/><rect x="1253" y="569" width="3" height="17" fill="#ffeb3b"/>
<text x="1263.3" y="582" font-size="12" fill="#131722" textLength="28.5" lengthAdjust="spacingAndGlyphs">55.98</text>
<text x="96.5" y="713.8" text-anchor="middle" font-size="12" fill="#131722" stroke="#131722" stroke-width="0.3">Feb</text>
<text x="199.5" y="713.8" text-anchor="middle" font-size="12" fill="#131722" stroke="#131722" stroke-width="0.3">Mar</text>
<text x="318.5" y="713.8" text-anchor="middle" font-size="12" fill="#131722" stroke="#131722" stroke-width="0.3">Apr</text>
<text x="426.5" y="713.8" text-anchor="middle" font-size="12" fill="#131722" stroke="#131722" stroke-width="0.3">May</text>
<text x="539.5" y="713.8" text-anchor="middle" font-size="12" fill="#131722" stroke="#131722" stroke-width="0.3">Jun</text>
<text x="653.5" y="713.8" text-anchor="middle" font-size="12" fill="#131722" stroke="#131722" stroke-width="0.3">Jul</text>
<text x="761.5" y="713.8" text-anchor="middle" font-size="12" fill="#131722" stroke="#131722" stroke-width="0.3">Aug</text>
<text x="880.5" y="713.8" text-anchor="middle" font-size="12" fill="#131722" stroke="#131722" stroke-width="0.3">Sep</text>
<text x="993.5" y="713.8" text-anchor="middle" font-size="12" fill="#131722" stroke="#131722" stroke-width="0.3">Oct</text>
<text x="1101.5" y="713.8" text-anchor="middle" font-size="12" fill="#131722" stroke="#131722" stroke-width="0.3">Nov</text>
<text x="1215.5" y="713.8" text-anchor="middle" font-size="12" fill="#131722" stroke="#131722" stroke-width="0.3">Dec</text>
<polyline points="3.5,600.9 9.5,582.5 14.5,597.3 19.5,582.1 24.5,562.7 29.5,559.2 34.5,575.5 39.5,581.0 45.5,606.3 50.5,598.5 55.5,610.2 60.5,597.6 65.5,604.9 70.5,612.5 76.5,629.1 81.5,651.6 86.5,647.9 91.5,617.8 96.5,606.0 101.5,597.5 106.5,564.1 112.5,561.2 117.5,565.8 122.5,573.9 127.5,571.6 132.5,570.3 137.5,599.5 143.5,610.8 148.5,592.9 153.5,589.0 158.5,595.0 163.5,607.1 168.5,610.2 173.5,603.9 179.5,611.3 184.5,642.0 189.5,613.4 194.5,626.8 199.5,647.5 204.5,647.5 210.5,657.4 215.5,678.0 220.5,687.0 225.5,670.2 230.5,620.9 235.5,636.4 240.5,646.5 246.5,638.3 251.5,634.7 256.5,615.9 261.5,603.5 266.5,611.8 271.5,618.8 277.5,614.7 282.5,620.3 287.5,621.1 292.5,624.5 297.5,624.6 302.5,593.9 307.5,576.9 313.5,601.3 318.5,605.6 323.5,622.5 328.5,634.5 333.5,637.2 338.5,639.9 344.5,639.9 349.5,638.7 354.5,649.8 359.5,627.9 364.5,641.2 369.5,645.5 374.5,651.4 380.5,647.7 385.5,624.0 390.5,628.9 395.5,638.2 400.5,655.8 405.5,668.3 411.5,680.2 416.5,687.5 421.5,669.6 426.5,675.6 431.5,668.7 436.5,633.5 441.5,649.3 447.5,644.9 452.5,641.5 457.5,647.9 462.5,650.2 467.5,672.9 472.5,659.2 478.5,652.5 483.5,617.1 488.5,634.8 493.5,604.4 498.5,609.3 503.5,582.8 508.5,575.1 514.5,587.7 519.5,578.8 524.5,576.2 529.5,568.9 534.5,581.2 539.5,601.0 545.5,580.0 550.5,587.3 555.5,591.7 560.5,590.7 565.5,586.4 570.5,611.5 575.5,630.4 581.5,647.7 586.5,644.1 591.5,637.2 596.5,610.6 601.5,621.2 606.5,616.0 612.5,610.9 617.5,602.6 622.5,614.7 627.5,603.2 632.5,597.1 637.5,613.4 642.5,628.7 648.5,616.0 653.5,628.4 658.5,629.7 663.5,655.5 668.5,667.3 673.5,669.7 679.5,659.0 684.5,677.9 689.5,678.2 694.5,671.3 699.5,677.4 704.5,651.5 709.5,635.2 715.5,616.0 720.5,624.8 725.5,612.1 730.5,615.7 735.5,613.3 740.5,634.2 746.5,613.4 751.5,612.2 756.5,605.0 761.5,596.4 766.5,619.0 771.5,619.3 776.5,597.1 782.5,613.0 787.5,608.2 792.5,603.1 797.5,582.7 802.5,578.3 807.5,596.2 813.5,617.4 818.5,612.6 823.5,611.5 828.5,631.7 833.5,640.7 838.5,656.3 843.5,646.6 849.5,647.9 854.5,643.3 859.5,646.2 864.5,632.7 869.5,627.9 874.5,615.0 880.5,640.1 885.5,637.5 890.5,642.4 895.5,648.5 900.5,611.9 905.5,615.7 910.5,600.7 916.5,580.8 921.5,618.8 926.5,613.8 931.5,611.4 936.5,604.9 941.5,602.0 947.5,616.7 952.5,643.2 957.5,644.4 962.5,666.8 967.5,676.4 972.5,678.6 977.5,636.3 983.5,617.1 988.5,620.3 993.5,613.6 998.5,581.3 1003.5,601.9 1008.5,617.5 1014.5,625.0 1019.5,631.5 1024.5,628.3 1029.5,629.8 1034.5,611.8 1039.5,623.2 1044.5,596.3 1050.5,593.6 1055.5,609.6 1060.5,607.4 1065.5,591.2 1070.5,588.2 1075.5,570.8 1081.5,552.6 1086.5,579.6 1091.5,578.9 1096.5,597.6 1101.5,598.7 1106.5,610.1 1111.5,622.4 1117.5,581.1 1122.5,572.2 1127.5,564.6 1132.5,578.6 1137.5,551.4 1142.5,538.4" fill="none" stroke="#7e57c2" stroke-width="1.1" stroke-linejoin="round" clip-path="url(#cr)"/>
<polyline points="3.5,601.5 19.5,597.9 29.5,592.2 39.5,589.2 50.5,590.2 55.5,592.2 65.5,591.2 70.5,590.8 76.5,592.8 81.5,597.7 86.5,601.4 91.5,603.9 96.5,607.0 101.5,609.7 106.5,608.9 112.5,607.5 117.5,604.6 122.5,602.9 127.5,600.1 132.5,598.2 137.5,597.8 143.5,597.6 148.5,595.1 153.5,590.6 158.5,586.8 163.5,586.1 168.5,586.3 173.5,586.8 179.5,590.2 184.5,596.0 189.5,599.4 194.5,603.1 199.5,608.5 204.5,614.1 210.5,618.2 215.5,623.0 220.5,629.7 225.5,635.5 230.5,637.4 235.5,639.5 240.5,642.1 246.5,644.5 251.5,646.2 256.5,644.3 261.5,643.6 266.5,642.5 271.5,640.5 277.5,638.2 282.5,635.5 287.5,631.4 292.5,627.0 297.5,623.7 302.5,621.8 307.5,617.5 313.5,614.3 318.5,612.0 323.5,611.1 328.5,612.4 333.5,614.8 338.5,616.9 344.5,618.4 349.5,620.1 354.5,622.2 359.5,622.7 364.5,623.9 369.5,625.3 374.5,629.4 380.5,634.5 385.5,636.1 390.5,637.8 395.5,638.9 400.5,640.4 405.5,642.7 411.5,645.5 416.5,648.9 421.5,651.1 426.5,653.0 431.5,655.9 436.5,655.3 441.5,655.6 447.5,655.1 452.5,654.7 457.5,656.4 462.5,657.9 467.5,660.4 472.5,660.7 478.5,659.5 483.5,655.0 488.5,651.3 493.5,646.6 498.5,641.9 503.5,635.7 508.5,631.6 514.5,627.2 519.5,622.4 524.5,617.8 529.5,612.1 534.5,607.2 539.5,602.1 545.5,596.4 550.5,591.8 555.5,589.9 560.5,586.8 565.5,585.5 570.5,585.7 575.5,589.1 581.5,594.3 586.5,598.3 591.5,602.5 596.5,604.9 601.5,608.6 606.5,611.1 612.5,611.8 617.5,613.4 622.5,615.4 627.5,616.2 632.5,616.7 637.5,618.6 642.5,619.8 648.5,618.8 653.5,617.4 658.5,616.4 663.5,617.7 668.5,621.8 673.5,625.2 679.5,628.3 684.5,633.1 689.5,638.5 694.5,642.5 699.5,647.8 704.5,651.7 709.5,653.3 715.5,652.4 720.5,653.0 725.5,651.8 730.5,650.8 735.5,647.8 740.5,645.5 746.5,641.4 751.5,638.1 756.5,632.9 761.5,627.0 766.5,623.3 771.5,619.2 776.5,615.3 782.5,613.7 787.5,613.1 792.5,611.6 797.5,609.5 802.5,606.8 807.5,605.6 813.5,604.4 818.5,604.3 823.5,604.3 828.5,606.2 833.5,609.3 838.5,612.0 843.5,614.0 849.5,617.6 854.5,619.8 859.5,622.5 864.5,624.6 869.5,627.8 874.5,630.4 880.5,633.6 885.5,635.0 890.5,637.1 895.5,639.8 900.5,638.4 905.5,636.6 910.5,632.6 916.5,627.9 921.5,625.8 926.5,623.7 931.5,621.2 936.5,619.2 941.5,617.4 947.5,617.5 952.5,617.7 957.5,618.2 962.5,620.0 967.5,622.0 972.5,626.7 977.5,628.2 983.5,629.4 988.5,632.2 993.5,631.8 998.5,629.5 1003.5,628.8 1008.5,629.7 1014.5,631.4 1019.5,632.4 1024.5,631.3 1029.5,630.3 1034.5,626.4 1039.5,622.6 1044.5,616.7 1050.5,613.6 1055.5,613.1 1060.5,612.2 1065.5,610.6 1070.5,611.1 1075.5,608.9 1081.5,604.2 1086.5,601.0 1091.5,597.2 1096.5,595.0 1101.5,592.8 1106.5,592.7 1111.5,592.6 1117.5,591.6 1122.5,590.0 1127.5,586.8 1132.5,584.8 1137.5,581.9 1142.5,578.4" fill="none" stroke="#ffee58" stroke-width="1.1" stroke-linejoin="round" clip-path="url(#cr)"/>
<g id="forex-logo"><text font-family="Liberation Sans, Arial, sans-serif" font-weight="bold" stroke-linejoin="miter" paint-order="stroke"><tspan x="691.33" y="129.1" textLength="50.35" lengthAdjust="spacingAndGlyphs" font-size="75.8" stroke-width="4.6" fill="#05394f" stroke="#05394f">F</tspan><tspan x="744.25" y="129.1" textLength="59.35" lengthAdjust="spacingAndGlyphs" font-size="75.8" stroke-width="4.6" fill="#0db25c" stroke="#0db25c">O</tspan><tspan x="814.32" y="129.1" textLength="54.44" lengthAdjust="spacingAndGlyphs" font-size="75.8" stroke-width="4.6" fill="#05394f" stroke="#05394f">R</tspan><tspan x="873.40" y="129.1" textLength="49.55" lengthAdjust="spacingAndGlyphs" font-size="75.8" stroke-width="4.6" fill="#05394f" stroke="#05394f">E</tspan><tspan x="929.18" y="129.1" textLength="54.71" lengthAdjust="spacingAndGlyphs" font-size="75.8" stroke-width="4.6" fill="#05394f" stroke="#05394f">X</tspan><tspan x="990.80" y="114.4" textLength="7.15" lengthAdjust="spacingAndGlyphs" font-size="39.1" stroke-width="2.4" fill="#05394f" stroke="#05394f">.</tspan><tspan x="1000.79" y="114.4" textLength="22.35" lengthAdjust="spacingAndGlyphs" font-size="39.1" stroke-width="2.4" fill="#05394f" stroke="#05394f">c</tspan><tspan x="1024.54" y="114.4" textLength="26.86" lengthAdjust="spacingAndGlyphs" font-size="39.1" stroke-width="2.4" fill="#05394f" stroke="#05394f">o</tspan><tspan x="1051.87" y="114.4" textLength="41.06" lengthAdjust="spacingAndGlyphs" font-size="39.1" stroke-width="2.4" fill="#05394f" stroke="#05394f">m</tspan></text><ellipse cx="774" cy="102.4" rx="29.2" ry="29.7" fill="#0db25c"/>
<ellipse cx="773.7" cy="103" rx="11.3" ry="21.6" fill="#fff"/>
<circle cx="994.4" cy="111.3" r="4.45" fill="#05394f"/>
<path d="M777.6 95.8 L812.3 95.8 L810.7 100.4 L776.0 100.4 Z M775.9 105.9 L809 105.9 L807.3 110.9 L774.2 110.9 Z" fill="#0db25c"/></g>
<g id="tv-logo" fill="#131722">
<path d="M4 736.3 H13.1 V745.8 H8 V741 H4 Z"/>
<circle cx="15.1" cy="738" r="1.75"/>
<path d="M17.9 736.3 H23.6 L19.5 745.8 H14.9 Z"/>
<text x="26.9" y="745.8" font-size="13" textLength="70.2" lengthAdjust="spacingAndGlyphs" fill="#1e222d">TradingView</text>
</g>

</svg></body></html>
